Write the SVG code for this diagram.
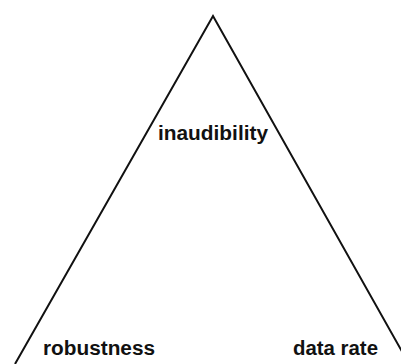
<svg xmlns="http://www.w3.org/2000/svg" width="401" height="364" viewBox="0 0 401 364">
<style>
.lbl{font-family:"Liberation Sans",Arial,sans-serif;font-weight:bold;font-size:20px;fill:#111}
.edge{stroke:#111;stroke-width:2;fill:none;stroke-linejoin:miter}
</style>
<rect width="401" height="364" fill="#fff"/>
<g id="connectors">
<path class="edge" d="M15,364 L213,16 L409,364"/>
</g>
<g id="inaudibility"><text class="lbl" x="158" y="140" textLength="110" lengthAdjust="spacingAndGlyphs">inaudibility</text></g>
<g id="robustness"><text class="lbl" x="43" y="355" textLength="112" lengthAdjust="spacingAndGlyphs">robustness</text></g>
<g id="data-rate"><text class="lbl" x="293" y="355" textLength="85" lengthAdjust="spacingAndGlyphs">data rate</text></g>
</svg>
